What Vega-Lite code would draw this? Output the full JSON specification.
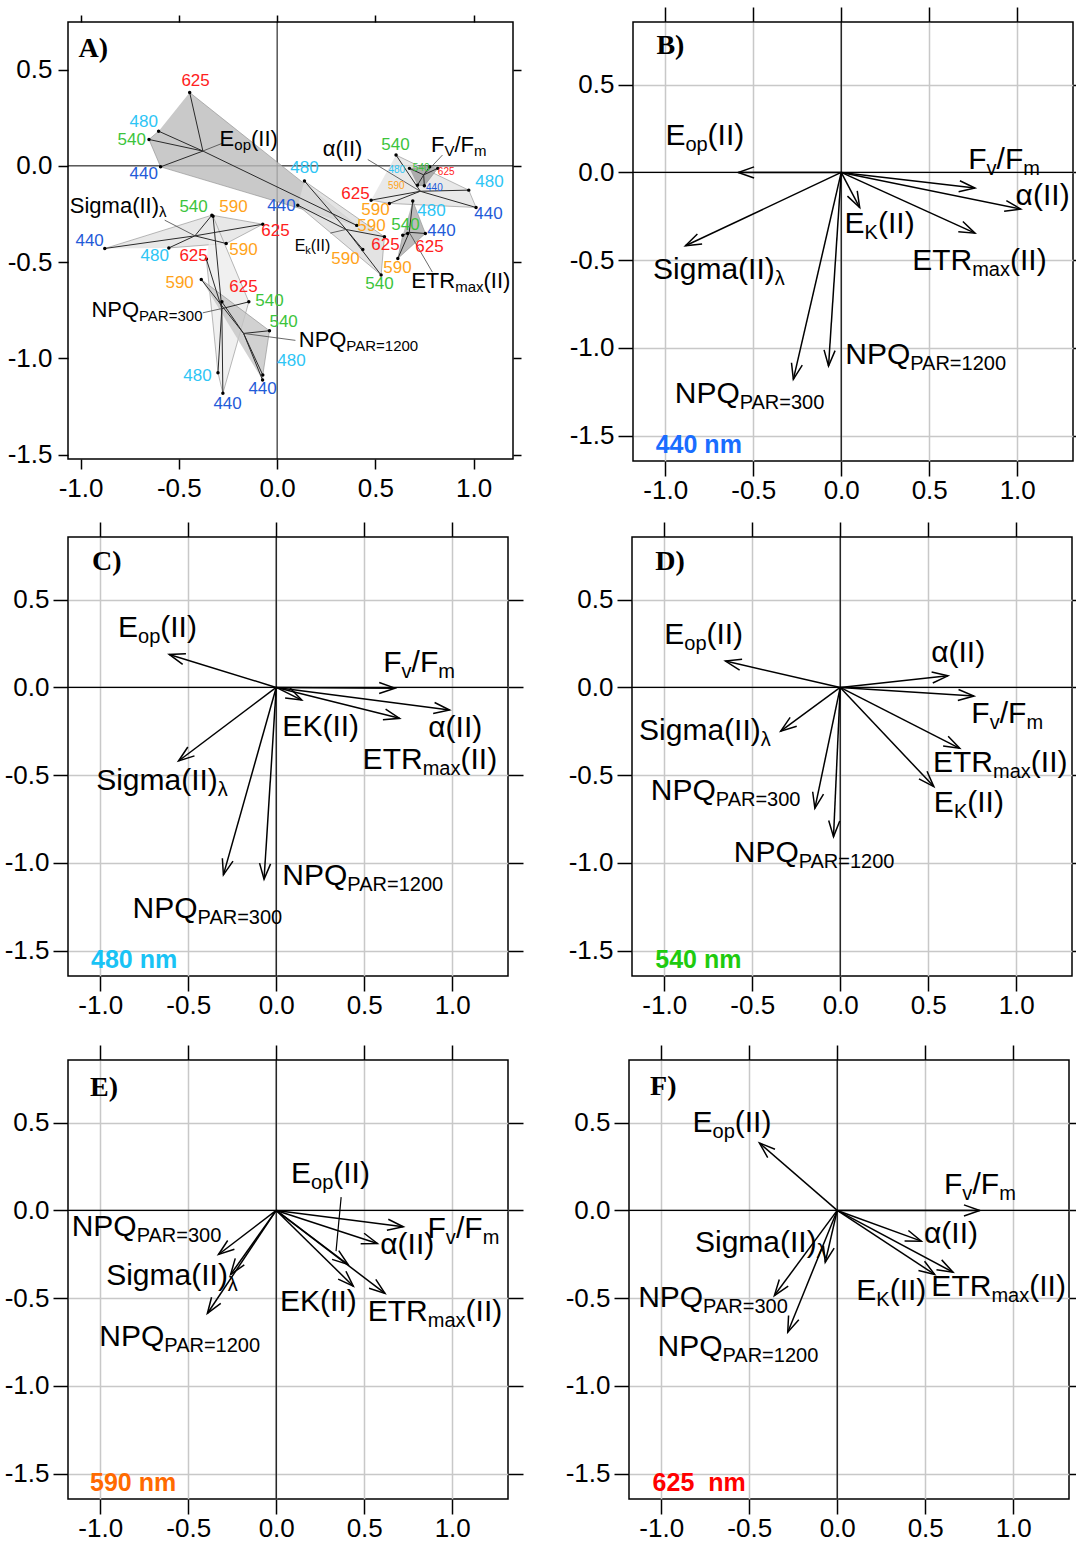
{
"$schema": "https://vega.github.io/schema/vega-lite/v6.json",
"padding": {"left": 3, "top": 5, "right": 0, "bottom": 0},
"background": "white",
"config": {
  "view": {"stroke": "black", "strokeWidth": 1.5},
  "font": "Liberation Sans",
  "axis": {"labelFont": "Liberation Sans", "labelFontSize": 26, "labelColor": "black", "tickColor": "black", "tickWidth": 1.5, "domain": false, "gridColor": "#c8c8c8", "gridWidth": 1.5, "labelOverlap": false, "labelFlush": false}
},
"datasets": {
  "arrows": [
    {"p":"B","v":"Eop","x":-0.585,"y":0.0},{"p":"B","v":"FvFm","x":0.760,"y":-0.089},{"p":"B","v":"alpha","x":1.020,"y":-0.209},{"p":"B","v":"EK","x":0.105,"y":-0.200},{"p":"B","v":"ETRmax","x":0.760,"y":-0.346},{"p":"B","v":"Sigma","x":-0.885,"y":-0.418},{"p":"B","v":"NPQ300","x":-0.272,"y":-1.179},{"p":"B","v":"NPQ1200","x":-0.072,"y":-1.103},
    {"p":"C","v":"Eop","x":-0.608,"y":0.188},{"p":"C","v":"FvFm","x":0.675,"y":-0.004},{"p":"C","v":"alpha","x":0.985,"y":-0.129},{"p":"C","v":"EK","x":0.145,"y":-0.072},{"p":"C","v":"ETRmax","x":0.701,"y":-0.176},{"p":"C","v":"Sigma","x":-0.555,"y":-0.419},{"p":"C","v":"NPQ300","x":-0.300,"y":-1.068},{"p":"C","v":"NPQ1200","x":-0.069,"y":-1.093},
    {"p":"D","v":"Eop","x":-0.652,"y":0.150},{"p":"D","v":"alpha","x":0.612,"y":0.066},{"p":"D","v":"FvFm","x":0.760,"y":-0.049},{"p":"D","v":"ETRmax","x":0.679,"y":-0.347},{"p":"D","v":"EK","x":0.532,"y":-0.565},{"p":"D","v":"Sigma","x":-0.338,"y":-0.249},{"p":"D","v":"NPQ300","x":-0.144,"y":-0.689},{"p":"D","v":"NPQ1200","x":-0.038,"y":-0.850},
    {"p":"E","v":"FvFm","x":0.722,"y":-0.093},{"p":"E","v":"alpha","x":0.575,"y":-0.188},{"p":"E","v":"Eop","x":0.408,"y":-0.308},{"p":"E","v":"EK","x":0.438,"y":-0.432},{"p":"E","v":"ETRmax","x":0.618,"y":-0.473},{"p":"E","v":"NPQ300","x":-0.328,"y":-0.251},{"p":"E","v":"Sigma","x":-0.259,"y":-0.365},{"p":"E","v":"NPQ1200","x":-0.391,"y":-0.587},
    {"p":"F","v":"Eop","x":-0.442,"y":0.384},{"p":"F","v":"FvFm","x":0.810,"y":0.0},{"p":"F","v":"alpha","x":0.478,"y":-0.175},{"p":"F","v":"EK","x":0.554,"y":-0.365},{"p":"F","v":"ETRmax","x":0.658,"y":-0.352},{"p":"F","v":"Sigma","x":-0.068,"y":-0.295},{"p":"F","v":"NPQ300","x":-0.357,"y":-0.485},{"p":"F","v":"NPQ1200","x":-0.281,"y":-0.694}
  ],
  "labs": [
    {"p":"B","t":"E","k":"m","x":-0.999,"y":0.156},{"p":"B","t":"op","k":"s","x":-0.885,"y":0.156},{"p":"B","t":"(II)","k":"m","x":-0.759,"y":0.156},
    {"p":"B","t":"F","k":"m","x":0.722,"y":0.019},{"p":"B","t":"v","k":"s","x":0.826,"y":0.019},{"p":"B","t":"/F","k":"m","x":0.883,"y":0.019},{"p":"B","t":"m","k":"s","x":1.035,"y":0.019},
    {"p":"B","t":"α(II)","k":"m","x":0.991,"y":-0.186},
    {"p":"B","t":"E","k":"m","x":0.019,"y":-0.346},{"p":"B","t":"K","k":"s","x":0.133,"y":-0.346},{"p":"B","t":"(II)","k":"m","x":0.209,"y":-0.346},
    {"p":"B","t":"ETR","k":"m","x":0.403,"y":-0.555},{"p":"B","t":"max","k":"s","x":0.744,"y":-0.555},{"p":"B","t":"(II)","k":"m","x":0.959,"y":-0.555},
    {"p":"B","t":"Sigma(II)","k":"m","x":-1.069,"y":-0.608},{"p":"B","t":"λ","k":"s","x":-0.378,"y":-0.608},
    {"p":"B","t":"NPQ","k":"m","x":0.023,"y":-1.093},{"p":"B","t":"PAR=1200","k":"s","x":0.392,"y":-1.093},
    {"p":"B","t":"NPQ","k":"m","x":-0.946,"y":-1.312},{"p":"B","t":"PAR=300","k":"s","x":-0.577,"y":-1.312},
    {"p":"C","t":"E","k":"m","x":-0.899,"y":0.288},{"p":"C","t":"op","k":"s","x":-0.785,"y":0.288},{"p":"C","t":"(II)","k":"m","x":-0.659,"y":0.288},
    {"p":"C","t":"F","k":"m","x":0.608,"y":0.089},{"p":"C","t":"v","k":"s","x":0.712,"y":0.089},{"p":"C","t":"/F","k":"m","x":0.769,"y":0.089},{"p":"C","t":"m","k":"s","x":0.921,"y":0.089},
    {"p":"C","t":"α(II)","k":"m","x":0.864,"y":-0.281},
    {"p":"C","t":"EK(II)","k":"m","x":0.035,"y":-0.275},
    {"p":"C","t":"ETR","k":"m","x":0.491,"y":-0.467},{"p":"C","t":"max","k":"s","x":0.832,"y":-0.467},{"p":"C","t":"(II)","k":"m","x":1.047,"y":-0.467},
    {"p":"C","t":"Sigma(II)","k":"m","x":-1.023,"y":-0.584},{"p":"C","t":"λ","k":"s","x":-0.332,"y":-0.584},
    {"p":"C","t":"NPQ","k":"m","x":0.035,"y":-1.125},{"p":"C","t":"PAR=1200","k":"s","x":0.404,"y":-1.125},
    {"p":"C","t":"NPQ","k":"m","x":-0.816,"y":-1.315},{"p":"C","t":"PAR=300","k":"s","x":-0.447,"y":-1.315},
    {"p":"D","t":"E","k":"m","x":-1.0,"y":0.245},{"p":"D","t":"op","k":"s","x":-0.886,"y":0.245},{"p":"D","t":"(II)","k":"m","x":-0.760,"y":0.245},
    {"p":"D","t":"α(II)","k":"m","x":0.517,"y":0.146},
    {"p":"D","t":"F","k":"m","x":0.745,"y":-0.205},{"p":"D","t":"v","k":"s","x":0.849,"y":-0.205},{"p":"D","t":"/F","k":"m","x":0.906,"y":-0.205},{"p":"D","t":"m","k":"s","x":1.058,"y":-0.205},
    {"p":"D","t":"ETR","k":"m","x":0.527,"y":-0.480},{"p":"D","t":"max","k":"s","x":0.868,"y":-0.480},{"p":"D","t":"(II)","k":"m","x":1.083,"y":-0.480},
    {"p":"D","t":"E","k":"m","x":0.532,"y":-0.708},{"p":"D","t":"K","k":"s","x":0.646,"y":-0.708},{"p":"D","t":"(II)","k":"m","x":0.722,"y":-0.708},
    {"p":"D","t":"Sigma(II)","k":"m","x":-1.143,"y":-0.300},{"p":"D","t":"λ","k":"s","x":-0.452,"y":-0.300},
    {"p":"D","t":"NPQ","k":"m","x":-1.076,"y":-0.641},{"p":"D","t":"PAR=300","k":"s","x":-0.707,"y":-0.641},
    {"p":"D","t":"NPQ","k":"m","x":-0.605,"y":-0.992},{"p":"D","t":"PAR=1200","k":"s","x":-0.236,"y":-0.992},
    {"p":"E","t":"E","k":"m","x":0.084,"y":0.158},{"p":"E","t":"op","k":"s","x":0.198,"y":0.158},{"p":"E","t":"(II)","k":"m","x":0.324,"y":0.158},
    {"p":"E","t":"F","k":"m","x":0.860,"y":-0.156},{"p":"E","t":"v","k":"s","x":0.964,"y":-0.156},{"p":"E","t":"/F","k":"m","x":1.021,"y":-0.156},{"p":"E","t":"m","k":"s","x":1.173,"y":-0.156},
    {"p":"E","t":"α(II)","k":"m","x":0.591,"y":-0.251},
    {"p":"E","t":"EK(II)","k":"m","x":0.022,"y":-0.574},
    {"p":"E","t":"ETR","k":"m","x":0.520,"y":-0.631},{"p":"E","t":"max","k":"s","x":0.861,"y":-0.631},{"p":"E","t":"(II)","k":"m","x":1.076,"y":-0.631},
    {"p":"E","t":"NPQ","k":"m","x":-1.162,"y":-0.146},{"p":"E","t":"PAR=300","k":"s","x":-0.793,"y":-0.146},
    {"p":"E","t":"Sigma(II)","k":"m","x":-0.966,"y":-0.422},{"p":"E","t":"λ","k":"s","x":-0.275,"y":-0.422},
    {"p":"E","t":"NPQ","k":"m","x":-1.005,"y":-0.774},{"p":"E","t":"PAR=1200","k":"s","x":-0.636,"y":-0.774},
    {"p":"F","t":"E","k":"m","x":-0.822,"y":0.447},{"p":"F","t":"op","k":"s","x":-0.708,"y":0.447},{"p":"F","t":"(II)","k":"m","x":-0.582,"y":0.447},
    {"p":"F","t":"F","k":"m","x":0.607,"y":0.095},{"p":"F","t":"v","k":"s","x":0.711,"y":0.095},{"p":"F","t":"/F","k":"m","x":0.768,"y":0.095},{"p":"F","t":"m","k":"s","x":0.920,"y":0.095},
    {"p":"F","t":"α(II)","k":"m","x":0.493,"y":-0.186},
    {"p":"F","t":"E","k":"m","x":0.108,"y":-0.513},{"p":"F","t":"K","k":"s","x":0.222,"y":-0.513},{"p":"F","t":"(II)","k":"m","x":0.298,"y":-0.513},
    {"p":"F","t":"ETR","k":"m","x":0.535,"y":-0.485},{"p":"F","t":"max","k":"s","x":0.876,"y":-0.485},{"p":"F","t":"(II)","k":"m","x":1.091,"y":-0.485},
    {"p":"F","t":"Sigma(II)","k":"m","x":-0.808,"y":-0.238},{"p":"F","t":"λ","k":"s","x":-0.117,"y":-0.238},
    {"p":"F","t":"NPQ","k":"m","x":-1.131,"y":-0.548},{"p":"F","t":"PAR=300","k":"s","x":-0.762,"y":-0.548},
    {"p":"F","t":"NPQ","k":"m","x":-1.021,"y":-0.827},{"p":"F","t":"PAR=1200","k":"s","x":-0.652,"y":-0.827}
  ],
  "tags": [
    {"p":"A","t":"A)","kind":"L","x":-1.010,"y":0.566},
    {"p":"B","t":"B)","kind":"L","x":-1.050,"y":0.675},{"p":"B","t":"440 nm","kind":"W","x":-1.054,"y":-1.601},
    {"p":"C","t":"C)","kind":"L","x":-1.046,"y":0.668},{"p":"C","t":"480 nm","kind":"W","x":-1.052,"y":-1.600},
    {"p":"D","t":"D)","kind":"L","x":-1.051,"y":0.668},{"p":"D","t":"540 nm","kind":"W","x":-1.051,"y":-1.596},
    {"p":"E","t":"E)","kind":"L","x":-1.058,"y":0.652},{"p":"E","t":"590 nm","kind":"W","x":-1.058,"y":-1.601},
    {"p":"F","t":"F)","kind":"L","x":-1.063,"y":0.656},{"p":"F","t":"625\u00a0\u00a0nm","kind":"W","x":-1.049,"y":-1.601}
  ],
  "apts": [
    {"g":"Eop","wl":"625","x":-0.445,"y":0.381,"lx":-0.415,"ly":0.440,"h":1},
    {"g":"Eop","wl":"590","x":0.405,"y":-0.309,"lx":0.480,"ly":-0.313,"h":2},
    {"g":"Eop","wl":"440","x":-0.593,"y":-0.005,"lx":-0.679,"ly":-0.043,"h":3},
    {"g":"Eop","wl":"540","x":-0.652,"y":0.137,"lx":-0.740,"ly":0.133,"h":4},
    {"g":"Eop","wl":"480","x":-0.603,"y":0.180,"lx":-0.679,"ly":0.227,"h":5},
    {"g":"Sigma","wl":"440","x":-0.877,"y":-0.429,"lx":-0.954,"ly":-0.391,"h":1},
    {"g":"Sigma","wl":"540","x":-0.332,"y":-0.256,"lx":-0.425,"ly":-0.214,"h":2},
    {"g":"Sigma","wl":"625","x":-0.073,"y":-0.303,"lx":-0.008,"ly":-0.339,"h":3},
    {"g":"Sigma","wl":"590","x":-0.259,"y":-0.403,"lx":-0.171,"ly":-0.437,"h":4},
    {"g":"Sigma","wl":"480","x":-0.551,"y":-0.426,"lx":-0.623,"ly":-0.469,"h":5},
    {"g":"NPQ300","wl":"590","x":-0.326,"y":-0.262,"lx":-0.222,"ly":-0.214,"h":1},
    {"g":"NPQ300","wl":"540","x":-0.144,"y":-0.706,"lx":-0.039,"ly":-0.702,"h":2},
    {"g":"NPQ300","wl":"440","x":-0.276,"y":-1.181,"lx":-0.252,"ly":-1.237,"h":3},
    {"g":"NPQ300","wl":"480","x":-0.301,"y":-1.074,"lx":-0.405,"ly":-1.091,"h":4},
    {"g":"NPQ300","wl":"625","x":-0.360,"y":-0.484,"lx":-0.425,"ly":-0.469,"h":5},
    {"g":"NPQ1200","wl":"590","x":-0.386,"y":-0.590,"lx":-0.496,"ly":-0.609,"h":1},
    {"g":"NPQ1200","wl":"540","x":-0.039,"y":-0.856,"lx":0.033,"ly":-0.811,"h":2},
    {"g":"NPQ1200","wl":"480","x":-0.073,"y":-1.086,"lx":0.073,"ly":-1.013,"h":3},
    {"g":"NPQ1200","wl":"440","x":-0.074,"y":-1.112,"lx":-0.074,"ly":-1.159,"h":4},
    {"g":"NPQ1200","wl":"625","x":-0.281,"y":-0.706,"lx":-0.171,"ly":-0.629,"h":null},
    {"g":"alpha","wl":"540","x":0.605,"y":0.056,"lx":0.602,"ly":0.107,"h":1},
    {"g":"alpha","wl":"480","x":0.975,"y":-0.126,"lx":1.080,"ly":-0.085,"h":2},
    {"g":"alpha","wl":"440","x":1.012,"y":-0.216,"lx":1.075,"ly":-0.251,"h":3},
    {"g":"alpha","wl":"590","x":0.571,"y":-0.195,"lx":0.500,"ly":-0.230,"h":4},
    {"g":"alpha","wl":"625","x":0.478,"y":-0.178,"lx":0.399,"ly":-0.147,"h":5},
    {"g":"FvFm","wl":"480","x":0.673,"y":-0.013,"lx":0.609,"ly":-0.022,"h":1},
    {"g":"FvFm","wl":"540","x":0.775,"y":-0.005,"lx":0.733,"ly":-0.013,"h":2},
    {"g":"FvFm","wl":"625","x":0.817,"y":-0.013,"lx":0.860,"ly":-0.031,"h":3},
    {"g":"FvFm","wl":"440","x":0.749,"y":-0.103,"lx":0.800,"ly":-0.117,"h":4},
    {"g":"FvFm","wl":"590","x":0.714,"y":-0.100,"lx":0.606,"ly":-0.105,"h":5},
    {"g":"EK","wl":"480","x":0.139,"y":-0.079,"lx":0.139,"ly":-0.012,"h":1},
    {"g":"EK","wl":"625","x":0.546,"y":-0.368,"lx":0.551,"ly":-0.412,"h":2},
    {"g":"EK","wl":"540","x":0.529,"y":-0.567,"lx":0.521,"ly":-0.614,"h":3},
    {"g":"EK","wl":"440","x":0.105,"y":-0.204,"lx":0.022,"ly":-0.209,"h":4},
    {"g":"EK","wl":"590","x":0.436,"y":-0.434,"lx":0.348,"ly":-0.484,"h":null},
    {"g":"ETRmax","wl":"480","x":0.690,"y":-0.182,"lx":0.785,"ly":-0.235,"h":1},
    {"g":"ETRmax","wl":"440","x":0.754,"y":-0.351,"lx":0.836,"ly":-0.339,"h":2},
    {"g":"ETRmax","wl":"590","x":0.614,"y":-0.481,"lx":0.612,"ly":-0.531,"h":3},
    {"g":"ETRmax","wl":"540","x":0.639,"y":-0.360,"lx":0.653,"ly":-0.308,"h":4},
    {"g":"ETRmax","wl":"625","x":0.664,"y":-0.351,"lx":0.775,"ly":-0.422,"h":null}
  ],
  "alabs": [
    {"t":"E","k":"m","x":-0.293,"y":0.102},{"t":"op","k":"s","x":-0.218,"y":0.102},{"t":"(II)","k":"m","x":-0.133,"y":0.102},
    {"t":"α(II)","k":"m","x":0.232,"y":0.050},
    {"t":"F","k":"m","x":0.783,"y":0.073},{"t":"V","k":"s","x":0.851,"y":0.073},{"t":"/F","k":"m","x":0.902,"y":0.073},{"t":"m","k":"s","x":1.002,"y":0.073},
    {"t":"Sigma(II)","k":"m","x":-1.055,"y":-0.244},{"t":"λ","k":"s","x":-0.601,"y":-0.244},
    {"t":"NPQ","k":"m","x":-0.945,"y":-0.787},{"t":"PAR=300","k":"s","x":-0.703,"y":-0.787},
    {"t":"NPQ","k":"m","x":0.110,"y":-0.942},{"t":"PAR=1200","k":"s","x":0.352,"y":-0.942},
    {"t":"E","k":"m2","x":0.089,"y":-0.443},{"t":"k","k":"s2","x":0.143,"y":-0.443},{"t":"(II)","k":"m2","x":0.171,"y":-0.443},
    {"t":"ETR","k":"m","x":0.682,"y":-0.636},{"t":"max","k":"s","x":0.906,"y":-0.636},{"t":"(II)","k":"m","x":1.050,"y":-0.636}
  ],
  "alead": [
    {"p":"A","x":-0.277,"y":0.118,"x2":-0.378,"y2":0.077},
    {"p":"A","x":-0.572,"y":-0.282,"x2":-0.418,"y2":-0.363},
    {"p":"A","x":-0.378,"y":-0.763,"x2":-0.282,"y2":-0.741},
    {"p":"A","x":0.093,"y":-0.906,"x2":-0.171,"y2":-0.870},
    {"p":"A","x":0.461,"y":0.033,"x2":0.728,"y2":-0.132},
    {"p":"A","x":0.841,"y":0.056,"x2":0.746,"y2":-0.047},
    {"p":"A","x":0.271,"y":-0.349,"x2":0.351,"y2":-0.330},
    {"p":"A","x":0.790,"y":-0.552,"x2":0.672,"y2":-0.345},
    {"p":"E","x":0.369,"y":0.076,"x2":0.340,"y2":-0.232}
  ]
},
"vconcat": [
 {"hconcat": [
  {"width": 445, "height": 437,
   "resolve": {"axis": {"x": "independent", "y": "independent"}},
   "layer": [
    {"data": {"name": "apts"}, "mark": {"type": "point", "opacity": 0},
     "encoding": {
      "x": {"field": "x", "type": "quantitative", "scale": {"domain": [-1.064, 1.2], "nice": false, "zero": false}, "axis": {"orient": "bottom", "values": [-1, -0.5, 0, 0.5, 1], "labelExpr": "datum.value < 0 ? '-' + format(-datum.value, '.1f') : format(datum.value, '.1f')", "grid": false, "tickSize": 10, "labelPadding": 6, "title": null}},
      "y": {"field": "y", "type": "quantitative", "scale": {"domain": [-1.522, 0.747], "nice": false, "zero": false}, "axis": {"orient": "left", "values": [-1.5, -1, -0.5, 0, 0.5], "labelExpr": "datum.value < 0 ? '-' + format(-datum.value, '.1f') : format(datum.value, '.1f')", "grid": false, "tickSize": 10, "labelPadding": 6, "title": null}}}},
    {"data": {"name": "apts"}, "mark": {"type": "point", "opacity": 0},
     "encoding": {
      "x": {"field": "x", "type": "quantitative", "axis": {"orient": "top", "values": [-1, -0.5, 0, 0.5, 1], "labels": false, "grid": false, "tickSize": 7, "title": null}},
      "y": {"field": "y", "type": "quantitative", "axis": {"orient": "right", "values": [-1.5, -1, -0.5, 0, 0.5], "labels": false, "grid": false, "tickSize": 8, "title": null}}}},
    {"data": {"name": "tags"}, "transform": [{"filter": "datum.p == 'A'"}],
     "mark": {"type": "rule", "color": "black", "strokeWidth": 1},
     "encoding": {"y": {"datum": 0, "type": "quantitative", "axis": null}}},
    {"data": {"name": "tags"}, "transform": [{"filter": "datum.p == 'A'"}],
     "mark": {"type": "rule", "color": "black", "strokeWidth": 1},
     "encoding": {"x": {"datum": 0, "type": "quantitative", "axis": null}}},
    {"data": {"name": "apts"}, "transform": [{"filter": "datum.h != null"}],
     "mark": {"type": "line", "stroke": "#8a8a8a", "strokeWidth": 0.6, "fillOpacity": 0.8},
     "encoding": {
      "x": {"field": "x", "type": "quantitative", "axis": null},
      "y": {"field": "y", "type": "quantitative", "axis": null},
      "order": {"field": "h", "type": "quantitative"},
      "detail": {"field": "g", "type": "nominal"},
      "fill": {"field": "g", "type": "nominal", "legend": null, "scale": {"domain": ["NPQ300","Sigma","alpha","EK","NPQ1200","Eop","ETRmax","FvFm"], "range": ["#ececec","#e2e2e2","#e4e4e4","#dcdcdc","#c6c6c6","#bcbcbc","#ababab","#9c9c9c"]}}}},
    {"data": {"name": "apts"}, "transform": [{"joinaggregate": [{"op": "mean", "field": "x", "as": "mx"}, {"op": "mean", "field": "y", "as": "my"}], "groupby": ["g"]}],
     "mark": {"type": "rule", "color": "#2a2a2a", "strokeWidth": 1},
     "encoding": {"x": {"field": "mx", "type": "quantitative", "axis": null}, "y": {"field": "my", "type": "quantitative", "axis": null}, "x2": {"field": "x"}, "y2": {"field": "y"}}},
    {"data": {"name": "alead"}, "transform": [{"filter": "datum.p == 'A'"}],
     "mark": {"type": "rule", "color": "#444444", "strokeWidth": 0.8},
     "encoding": {"x": {"field": "x", "type": "quantitative", "axis": null}, "y": {"field": "y", "type": "quantitative", "axis": null}, "x2": {"field": "x2"}, "y2": {"field": "y2"}}},
    {"data": {"name": "apts"}, "mark": {"type": "point", "filled": true, "color": "black", "size": 12, "opacity": 1},
     "encoding": {"x": {"field": "x", "type": "quantitative", "axis": null}, "y": {"field": "y", "type": "quantitative", "axis": null}}},
    {"data": {"name": "apts"}, "transform": [{"filter": "datum.g != 'FvFm'"}],
     "mark": {"type": "text", "align": "center", "baseline": "middle", "fontSize": 17, "font": "Liberation Sans"},
     "encoding": {"x": {"field": "lx", "type": "quantitative", "axis": null}, "y": {"field": "ly", "type": "quantitative", "axis": null}, "text": {"field": "wl", "type": "nominal"},
      "color": {"field": "wl", "type": "nominal", "legend": null, "scale": {"domain": ["440","480","540","590","625"], "range": ["#1f5bd8","#2ec5f5","#3cc43c","#ffa31a","#ff2020"]}}}},
    {"data": {"name": "apts"}, "transform": [{"filter": "datum.g == 'FvFm'"}],
     "mark": {"type": "text", "align": "center", "baseline": "middle", "fontSize": 10, "font": "Liberation Sans"},
     "encoding": {"x": {"field": "lx", "type": "quantitative", "axis": null}, "y": {"field": "ly", "type": "quantitative", "axis": null}, "text": {"field": "wl", "type": "nominal"},
      "color": {"field": "wl", "type": "nominal", "legend": null, "scale": {"domain": ["440","480","540","590","625"], "range": ["#1f5bd8","#2ec5f5","#3cc43c","#ffa31a","#ff2020"]}}}},
    {"data": {"name": "alabs"}, "transform": [{"filter": "datum.k == 'm'"}],
     "mark": {"type": "text", "align": "left", "baseline": "alphabetic", "fontSize": 22, "font": "Liberation Sans", "color": "black"},
     "encoding": {"x": {"field": "x", "type": "quantitative", "axis": null}, "y": {"field": "y", "type": "quantitative", "axis": null}, "text": {"field": "t", "type": "nominal"}}},
    {"data": {"name": "alabs"}, "transform": [{"filter": "datum.k == 's'"}],
     "mark": {"type": "text", "align": "left", "baseline": "alphabetic", "fontSize": 15, "dy": 4, "font": "Liberation Sans", "color": "black"},
     "encoding": {"x": {"field": "x", "type": "quantitative", "axis": null}, "y": {"field": "y", "type": "quantitative", "axis": null}, "text": {"field": "t", "type": "nominal"}}},
    {"data": {"name": "alabs"}, "transform": [{"filter": "datum.k == 'm2'"}],
     "mark": {"type": "text", "align": "left", "baseline": "alphabetic", "fontSize": 16, "font": "Liberation Sans", "color": "black"},
     "encoding": {"x": {"field": "x", "type": "quantitative", "axis": null}, "y": {"field": "y", "type": "quantitative", "axis": null}, "text": {"field": "t", "type": "nominal"}}},
    {"data": {"name": "alabs"}, "transform": [{"filter": "datum.k == 's2'"}],
     "mark": {"type": "text", "align": "left", "baseline": "alphabetic", "fontSize": 11, "dy": 3, "font": "Liberation Sans", "color": "black"},
     "encoding": {"x": {"field": "x", "type": "quantitative", "axis": null}, "y": {"field": "y", "type": "quantitative", "axis": null}, "text": {"field": "t", "type": "nominal"}}},
    {"data": {"name": "tags"}, "transform": [{"filter": "datum.p == 'A' && datum.kind == 'L'"}],
     "mark": {"type": "text", "align": "left", "baseline": "alphabetic", "fontSize": 28, "font": "Liberation Serif", "fontWeight": "bold", "color": "black"},
     "encoding": {"x": {"field": "x", "type": "quantitative", "axis": null}, "y": {"field": "y", "type": "quantitative", "axis": null}, "text": {"field": "t", "type": "nominal"}}}
   ]},
  {"width": 440, "height": 439,
   "resolve": {"axis": {"x": "independent", "y": "independent"}},
   "layer": [
    {"data": {"name": "arrows"}, "transform": [{"filter": "datum.p == 'B'"}], "mark": {"type": "point", "opacity": 0},
     "encoding": {
      "x": {"field": "x", "type": "quantitative", "scale": {"domain": [-1.183, 1.317], "nice": false, "zero": false}, "axis": {"orient": "bottom", "values": [-1, -0.5, 0, 0.5, 1], "labelExpr": "datum.value < 0 ? '-' + format(-datum.value, '.1f') : format(datum.value, '.1f')", "grid": true, "tickSize": 15, "labelPadding": 1, "title": null}},
      "y": {"field": "y", "type": "quantitative", "scale": {"domain": [-1.644, 0.857], "nice": false, "zero": false}, "axis": {"orient": "left", "values": [-1.5, -1, -0.5, 0, 0.5], "labelExpr": "datum.value < 0 ? '-' + format(-datum.value, '.1f') : format(datum.value, '.1f')", "grid": true, "tickSize": 15, "labelPadding": 4, "title": null}}}},
    {"data": {"name": "arrows"}, "transform": [{"filter": "datum.p == 'B'"}], "mark": {"type": "point", "opacity": 0},
     "encoding": {
      "x": {"field": "x", "type": "quantitative", "axis": {"orient": "top", "values": [-1, -0.5, 0, 0.5, 1], "labels": false, "grid": false, "tickSize": 15, "title": null}},
      "y": {"field": "y", "type": "quantitative", "axis": {"orient": "right", "values": [-1.5, -1, -0.5, 0, 0.5], "labels": false, "grid": false, "tickSize": 15, "title": null}}}},
    {"data": {"name": "tags"}, "transform": [{"filter": "datum.p == 'B' && datum.kind == 'L'"}], "mark": {"type": "rule", "color": "black", "strokeWidth": 1.2}, "encoding": {"y": {"datum": 0, "type": "quantitative", "axis": null}}},
    {"data": {"name": "tags"}, "transform": [{"filter": "datum.p == 'B' && datum.kind == 'L'"}], "mark": {"type": "rule", "color": "black", "strokeWidth": 1.2}, "encoding": {"x": {"datum": 0, "type": "quantitative", "axis": null}}},
    {"data": {"name": "arrows"}, "transform": [{"filter": "datum.p == 'B'"}], "mark": {"type": "rule", "color": "black", "strokeWidth": 1.5},
     "encoding": {"x": {"field": "x", "type": "quantitative", "axis": null}, "y": {"field": "y", "type": "quantitative", "axis": null}, "x2": {"datum": 0}, "y2": {"datum": 0}}},
    {"data": {"name": "arrows"}, "transform": [{"filter": "datum.p == 'B'"}, {"calculate": "-atan2(datum.y, datum.x) * 180 / PI", "as": "ang"}],
     "mark": {"type": "point", "shape": "M -1 -0.35 L 0 0 L -1 0.35", "filled": false, "size": 1000, "stroke": "black", "strokeWidth": 1.5, "opacity": 1},
     "encoding": {"x": {"field": "x", "type": "quantitative", "axis": null}, "y": {"field": "y", "type": "quantitative", "axis": null}, "angle": {"field": "ang", "type": "quantitative", "scale": null}}},
    {"data": {"name": "labs"}, "transform": [{"filter": "datum.p == 'B' && datum.k == 'm'"}],
     "mark": {"type": "text", "align": "left", "baseline": "alphabetic", "fontSize": 30, "font": "Liberation Sans", "color": "black"},
     "encoding": {"x": {"field": "x", "type": "quantitative", "axis": null}, "y": {"field": "y", "type": "quantitative", "axis": null}, "text": {"field": "t", "type": "nominal"}}},
    {"data": {"name": "labs"}, "transform": [{"filter": "datum.p == 'B' && datum.k == 's'"}],
     "mark": {"type": "text", "align": "left", "baseline": "alphabetic", "fontSize": 20, "dy": 6, "font": "Liberation Sans", "color": "black"},
     "encoding": {"x": {"field": "x", "type": "quantitative", "axis": null}, "y": {"field": "y", "type": "quantitative", "axis": null}, "text": {"field": "t", "type": "nominal"}}},
    {"data": {"name": "tags"}, "transform": [{"filter": "datum.p == 'B' && datum.kind == 'L'"}],
     "mark": {"type": "text", "align": "left", "baseline": "alphabetic", "fontSize": 28, "font": "Liberation Serif", "fontWeight": "bold", "color": "black"},
     "encoding": {"x": {"field": "x", "type": "quantitative", "axis": null}, "y": {"field": "y", "type": "quantitative", "axis": null}, "text": {"field": "t", "type": "nominal"}}},
    {"data": {"name": "tags"}, "transform": [{"filter": "datum.p == 'B' && datum.kind == 'W'"}],
     "mark": {"type": "text", "align": "left", "baseline": "alphabetic", "fontSize": 25, "font": "Liberation Sans", "fontWeight": "bold", "color": "#1a6dff"},
     "encoding": {"x": {"field": "x", "type": "quantitative", "axis": null}, "y": {"field": "y", "type": "quantitative", "axis": null}, "text": {"field": "t", "type": "nominal"}}}
   ]}
 ], "spacing": 45},
 {"vconcat": [
  {"hconcat": [
   {"width": 440, "height": 439,
    "resolve": {"axis": {"x": "independent", "y": "independent"}},
    "layer": [
     {"data": {"name": "arrows"}, "transform": [{"filter": "datum.p == 'C'"}], "mark": {"type": "point", "opacity": 0},
      "encoding": {
       "x": {"field": "x", "type": "quantitative", "scale": {"domain": [-1.183, 1.317], "nice": false, "zero": false}, "axis": {"orient": "bottom", "values": [-1, -0.5, 0, 0.5, 1], "labelExpr": "datum.value < 0 ? '-' + format(-datum.value, '.1f') : format(datum.value, '.1f')", "grid": true, "tickSize": 15, "labelPadding": 1, "title": null}},
       "y": {"field": "y", "type": "quantitative", "scale": {"domain": [-1.644, 0.857], "nice": false, "zero": false}, "axis": {"orient": "left", "values": [-1.5, -1, -0.5, 0, 0.5], "labelExpr": "datum.value < 0 ? '-' + format(-datum.value, '.1f') : format(datum.value, '.1f')", "grid": true, "tickSize": 15, "labelPadding": 4, "title": null}}}},
     {"data": {"name": "arrows"}, "transform": [{"filter": "datum.p == 'C'"}], "mark": {"type": "point", "opacity": 0},
      "encoding": {
       "x": {"field": "x", "type": "quantitative", "axis": {"orient": "top", "values": [-1, -0.5, 0, 0.5, 1], "labels": false, "grid": false, "tickSize": 15, "title": null}},
       "y": {"field": "y", "type": "quantitative", "axis": {"orient": "right", "values": [-1.5, -1, -0.5, 0, 0.5], "labels": false, "grid": false, "tickSize": 15, "title": null}}}},
     {"data": {"name": "tags"}, "transform": [{"filter": "datum.p == 'C' && datum.kind == 'L'"}], "mark": {"type": "rule", "color": "black", "strokeWidth": 1.2}, "encoding": {"y": {"datum": 0, "type": "quantitative", "axis": null}}},
     {"data": {"name": "tags"}, "transform": [{"filter": "datum.p == 'C' && datum.kind == 'L'"}], "mark": {"type": "rule", "color": "black", "strokeWidth": 1.2}, "encoding": {"x": {"datum": 0, "type": "quantitative", "axis": null}}},
     {"data": {"name": "arrows"}, "transform": [{"filter": "datum.p == 'C'"}], "mark": {"type": "rule", "color": "black", "strokeWidth": 1.5},
      "encoding": {"x": {"field": "x", "type": "quantitative", "axis": null}, "y": {"field": "y", "type": "quantitative", "axis": null}, "x2": {"datum": 0}, "y2": {"datum": 0}}},
     {"data": {"name": "arrows"}, "transform": [{"filter": "datum.p == 'C'"}, {"calculate": "-atan2(datum.y, datum.x) * 180 / PI", "as": "ang"}],
      "mark": {"type": "point", "shape": "M -1 -0.35 L 0 0 L -1 0.35", "filled": false, "size": 1000, "stroke": "black", "strokeWidth": 1.5, "opacity": 1},
      "encoding": {"x": {"field": "x", "type": "quantitative", "axis": null}, "y": {"field": "y", "type": "quantitative", "axis": null}, "angle": {"field": "ang", "type": "quantitative", "scale": null}}},
     {"data": {"name": "labs"}, "transform": [{"filter": "datum.p == 'C' && datum.k == 'm'"}],
      "mark": {"type": "text", "align": "left", "baseline": "alphabetic", "fontSize": 30, "font": "Liberation Sans", "color": "black"},
      "encoding": {"x": {"field": "x", "type": "quantitative", "axis": null}, "y": {"field": "y", "type": "quantitative", "axis": null}, "text": {"field": "t", "type": "nominal"}}},
     {"data": {"name": "labs"}, "transform": [{"filter": "datum.p == 'C' && datum.k == 's'"}],
      "mark": {"type": "text", "align": "left", "baseline": "alphabetic", "fontSize": 20, "dy": 6, "font": "Liberation Sans", "color": "black"},
      "encoding": {"x": {"field": "x", "type": "quantitative", "axis": null}, "y": {"field": "y", "type": "quantitative", "axis": null}, "text": {"field": "t", "type": "nominal"}}},
     {"data": {"name": "tags"}, "transform": [{"filter": "datum.p == 'C' && datum.kind == 'L'"}],
      "mark": {"type": "text", "align": "left", "baseline": "alphabetic", "fontSize": 28, "font": "Liberation Serif", "fontWeight": "bold", "color": "black"},
      "encoding": {"x": {"field": "x", "type": "quantitative", "axis": null}, "y": {"field": "y", "type": "quantitative", "axis": null}, "text": {"field": "t", "type": "nominal"}}},
     {"data": {"name": "tags"}, "transform": [{"filter": "datum.p == 'C' && datum.kind == 'W'"}],
      "mark": {"type": "text", "align": "left", "baseline": "alphabetic", "fontSize": 25, "font": "Liberation Sans", "fontWeight": "bold", "color": "#19c3f5"},
      "encoding": {"x": {"field": "x", "type": "quantitative", "axis": null}, "y": {"field": "y", "type": "quantitative", "axis": null}, "text": {"field": "t", "type": "nominal"}}}
    ]},
   {"width": 440, "height": 439,
    "resolve": {"axis": {"x": "independent", "y": "independent"}},
    "layer": [
     {"data": {"name": "arrows"}, "transform": [{"filter": "datum.p == 'D'"}], "mark": {"type": "point", "opacity": 0},
      "encoding": {
       "x": {"field": "x", "type": "quantitative", "scale": {"domain": [-1.183, 1.317], "nice": false, "zero": false}, "axis": {"orient": "bottom", "values": [-1, -0.5, 0, 0.5, 1], "labelExpr": "datum.value < 0 ? '-' + format(-datum.value, '.1f') : format(datum.value, '.1f')", "grid": true, "tickSize": 15, "labelPadding": 1, "title": null}},
       "y": {"field": "y", "type": "quantitative", "scale": {"domain": [-1.644, 0.857], "nice": false, "zero": false}, "axis": {"orient": "left", "values": [-1.5, -1, -0.5, 0, 0.5], "labelExpr": "datum.value < 0 ? '-' + format(-datum.value, '.1f') : format(datum.value, '.1f')", "grid": true, "tickSize": 15, "labelPadding": 4, "title": null}}}},
     {"data": {"name": "arrows"}, "transform": [{"filter": "datum.p == 'D'"}], "mark": {"type": "point", "opacity": 0},
      "encoding": {
       "x": {"field": "x", "type": "quantitative", "axis": {"orient": "top", "values": [-1, -0.5, 0, 0.5, 1], "labels": false, "grid": false, "tickSize": 15, "title": null}},
       "y": {"field": "y", "type": "quantitative", "axis": {"orient": "right", "values": [-1.5, -1, -0.5, 0, 0.5], "labels": false, "grid": false, "tickSize": 15, "title": null}}}},
     {"data": {"name": "tags"}, "transform": [{"filter": "datum.p == 'D' && datum.kind == 'L'"}], "mark": {"type": "rule", "color": "black", "strokeWidth": 1.2}, "encoding": {"y": {"datum": 0, "type": "quantitative", "axis": null}}},
     {"data": {"name": "tags"}, "transform": [{"filter": "datum.p == 'D' && datum.kind == 'L'"}], "mark": {"type": "rule", "color": "black", "strokeWidth": 1.2}, "encoding": {"x": {"datum": 0, "type": "quantitative", "axis": null}}},
     {"data": {"name": "arrows"}, "transform": [{"filter": "datum.p == 'D'"}], "mark": {"type": "rule", "color": "black", "strokeWidth": 1.5},
      "encoding": {"x": {"field": "x", "type": "quantitative", "axis": null}, "y": {"field": "y", "type": "quantitative", "axis": null}, "x2": {"datum": 0}, "y2": {"datum": 0}}},
     {"data": {"name": "arrows"}, "transform": [{"filter": "datum.p == 'D'"}, {"calculate": "-atan2(datum.y, datum.x) * 180 / PI", "as": "ang"}],
      "mark": {"type": "point", "shape": "M -1 -0.35 L 0 0 L -1 0.35", "filled": false, "size": 1000, "stroke": "black", "strokeWidth": 1.5, "opacity": 1},
      "encoding": {"x": {"field": "x", "type": "quantitative", "axis": null}, "y": {"field": "y", "type": "quantitative", "axis": null}, "angle": {"field": "ang", "type": "quantitative", "scale": null}}},
     {"data": {"name": "labs"}, "transform": [{"filter": "datum.p == 'D' && datum.k == 'm'"}],
      "mark": {"type": "text", "align": "left", "baseline": "alphabetic", "fontSize": 30, "font": "Liberation Sans", "color": "black"},
      "encoding": {"x": {"field": "x", "type": "quantitative", "axis": null}, "y": {"field": "y", "type": "quantitative", "axis": null}, "text": {"field": "t", "type": "nominal"}}},
     {"data": {"name": "labs"}, "transform": [{"filter": "datum.p == 'D' && datum.k == 's'"}],
      "mark": {"type": "text", "align": "left", "baseline": "alphabetic", "fontSize": 20, "dy": 6, "font": "Liberation Sans", "color": "black"},
      "encoding": {"x": {"field": "x", "type": "quantitative", "axis": null}, "y": {"field": "y", "type": "quantitative", "axis": null}, "text": {"field": "t", "type": "nominal"}}},
     {"data": {"name": "tags"}, "transform": [{"filter": "datum.p == 'D' && datum.kind == 'L'"}],
      "mark": {"type": "text", "align": "left", "baseline": "alphabetic", "fontSize": 28, "font": "Liberation Serif", "fontWeight": "bold", "color": "black"},
      "encoding": {"x": {"field": "x", "type": "quantitative", "axis": null}, "y": {"field": "y", "type": "quantitative", "axis": null}, "text": {"field": "t", "type": "nominal"}}},
     {"data": {"name": "tags"}, "transform": [{"filter": "datum.p == 'D' && datum.kind == 'W'"}],
      "mark": {"type": "text", "align": "left", "baseline": "alphabetic", "fontSize": 25, "font": "Liberation Sans", "fontWeight": "bold", "color": "#1ecb0f"},
      "encoding": {"x": {"field": "x", "type": "quantitative", "axis": null}, "y": {"field": "y", "type": "quantitative", "axis": null}, "text": {"field": "t", "type": "nominal"}}}
    ]}
  ], "spacing": 42},
  {"hconcat": [
   {"width": 440, "height": 439,
    "resolve": {"axis": {"x": "independent", "y": "independent"}},
    "layer": [
     {"data": {"name": "arrows"}, "transform": [{"filter": "datum.p == 'E'"}], "mark": {"type": "point", "opacity": 0},
      "encoding": {
       "x": {"field": "x", "type": "quantitative", "scale": {"domain": [-1.183, 1.317], "nice": false, "zero": false}, "axis": {"orient": "bottom", "values": [-1, -0.5, 0, 0.5, 1], "labelExpr": "datum.value < 0 ? '-' + format(-datum.value, '.1f') : format(datum.value, '.1f')", "grid": true, "tickSize": 15, "labelPadding": 1, "title": null}},
       "y": {"field": "y", "type": "quantitative", "scale": {"domain": [-1.644, 0.857], "nice": false, "zero": false}, "axis": {"orient": "left", "values": [-1.5, -1, -0.5, 0, 0.5], "labelExpr": "datum.value < 0 ? '-' + format(-datum.value, '.1f') : format(datum.value, '.1f')", "grid": true, "tickSize": 15, "labelPadding": 4, "title": null}}}},
     {"data": {"name": "arrows"}, "transform": [{"filter": "datum.p == 'E'"}], "mark": {"type": "point", "opacity": 0},
      "encoding": {
       "x": {"field": "x", "type": "quantitative", "axis": {"orient": "top", "values": [-1, -0.5, 0, 0.5, 1], "labels": false, "grid": false, "tickSize": 15, "title": null}},
       "y": {"field": "y", "type": "quantitative", "axis": {"orient": "right", "values": [-1.5, -1, -0.5, 0, 0.5], "labels": false, "grid": false, "tickSize": 15, "title": null}}}},
     {"data": {"name": "tags"}, "transform": [{"filter": "datum.p == 'E' && datum.kind == 'L'"}], "mark": {"type": "rule", "color": "black", "strokeWidth": 1.2}, "encoding": {"y": {"datum": 0, "type": "quantitative", "axis": null}}},
     {"data": {"name": "tags"}, "transform": [{"filter": "datum.p == 'E' && datum.kind == 'L'"}], "mark": {"type": "rule", "color": "black", "strokeWidth": 1.2}, "encoding": {"x": {"datum": 0, "type": "quantitative", "axis": null}}},
     {"data": {"name": "arrows"}, "transform": [{"filter": "datum.p == 'E'"}], "mark": {"type": "rule", "color": "black", "strokeWidth": 1.5},
      "encoding": {"x": {"field": "x", "type": "quantitative", "axis": null}, "y": {"field": "y", "type": "quantitative", "axis": null}, "x2": {"datum": 0}, "y2": {"datum": 0}}},
     {"data": {"name": "arrows"}, "transform": [{"filter": "datum.p == 'E'"}, {"calculate": "-atan2(datum.y, datum.x) * 180 / PI", "as": "ang"}],
      "mark": {"type": "point", "shape": "M -1 -0.35 L 0 0 L -1 0.35", "filled": false, "size": 1000, "stroke": "black", "strokeWidth": 1.5, "opacity": 1},
      "encoding": {"x": {"field": "x", "type": "quantitative", "axis": null}, "y": {"field": "y", "type": "quantitative", "axis": null}, "angle": {"field": "ang", "type": "quantitative", "scale": null}}},
     {"data": {"name": "alead"}, "transform": [{"filter": "datum.p == 'E'"}],
      "mark": {"type": "rule", "color": "black", "strokeWidth": 1.2},
      "encoding": {"x": {"field": "x", "type": "quantitative", "axis": null}, "y": {"field": "y", "type": "quantitative", "axis": null}, "x2": {"field": "x2"}, "y2": {"field": "y2"}}},
     {"data": {"name": "labs"}, "transform": [{"filter": "datum.p == 'E' && datum.k == 'm'"}],
      "mark": {"type": "text", "align": "left", "baseline": "alphabetic", "fontSize": 30, "font": "Liberation Sans", "color": "black"},
      "encoding": {"x": {"field": "x", "type": "quantitative", "axis": null}, "y": {"field": "y", "type": "quantitative", "axis": null}, "text": {"field": "t", "type": "nominal"}}},
     {"data": {"name": "labs"}, "transform": [{"filter": "datum.p == 'E' && datum.k == 's'"}],
      "mark": {"type": "text", "align": "left", "baseline": "alphabetic", "fontSize": 20, "dy": 6, "font": "Liberation Sans", "color": "black"},
      "encoding": {"x": {"field": "x", "type": "quantitative", "axis": null}, "y": {"field": "y", "type": "quantitative", "axis": null}, "text": {"field": "t", "type": "nominal"}}},
     {"data": {"name": "tags"}, "transform": [{"filter": "datum.p == 'E' && datum.kind == 'L'"}],
      "mark": {"type": "text", "align": "left", "baseline": "alphabetic", "fontSize": 28, "font": "Liberation Serif", "fontWeight": "bold", "color": "black"},
      "encoding": {"x": {"field": "x", "type": "quantitative", "axis": null}, "y": {"field": "y", "type": "quantitative", "axis": null}, "text": {"field": "t", "type": "nominal"}}},
     {"data": {"name": "tags"}, "transform": [{"filter": "datum.p == 'E' && datum.kind == 'W'"}],
      "mark": {"type": "text", "align": "left", "baseline": "alphabetic", "fontSize": 25, "font": "Liberation Sans", "fontWeight": "bold", "color": "#ff6a00"},
      "encoding": {"x": {"field": "x", "type": "quantitative", "axis": null}, "y": {"field": "y", "type": "quantitative", "axis": null}, "text": {"field": "t", "type": "nominal"}}}
    ]},
   {"width": 440, "height": 439,
    "resolve": {"axis": {"x": "independent", "y": "independent"}},
    "layer": [
     {"data": {"name": "arrows"}, "transform": [{"filter": "datum.p == 'F'"}], "mark": {"type": "point", "opacity": 0},
      "encoding": {
       "x": {"field": "x", "type": "quantitative", "scale": {"domain": [-1.183, 1.317], "nice": false, "zero": false}, "axis": {"orient": "bottom", "values": [-1, -0.5, 0, 0.5, 1], "labelExpr": "datum.value < 0 ? '-' + format(-datum.value, '.1f') : format(datum.value, '.1f')", "grid": true, "tickSize": 15, "labelPadding": 1, "title": null}},
       "y": {"field": "y", "type": "quantitative", "scale": {"domain": [-1.644, 0.857], "nice": false, "zero": false}, "axis": {"orient": "left", "values": [-1.5, -1, -0.5, 0, 0.5], "labelExpr": "datum.value < 0 ? '-' + format(-datum.value, '.1f') : format(datum.value, '.1f')", "grid": true, "tickSize": 15, "labelPadding": 4, "title": null}}}},
     {"data": {"name": "arrows"}, "transform": [{"filter": "datum.p == 'F'"}], "mark": {"type": "point", "opacity": 0},
      "encoding": {
       "x": {"field": "x", "type": "quantitative", "axis": {"orient": "top", "values": [-1, -0.5, 0, 0.5, 1], "labels": false, "grid": false, "tickSize": 15, "title": null}},
       "y": {"field": "y", "type": "quantitative", "axis": {"orient": "right", "values": [-1.5, -1, -0.5, 0, 0.5], "labels": false, "grid": false, "tickSize": 15, "title": null}}}},
     {"data": {"name": "tags"}, "transform": [{"filter": "datum.p == 'F' && datum.kind == 'L'"}], "mark": {"type": "rule", "color": "black", "strokeWidth": 1.2}, "encoding": {"y": {"datum": 0, "type": "quantitative", "axis": null}}},
     {"data": {"name": "tags"}, "transform": [{"filter": "datum.p == 'F' && datum.kind == 'L'"}], "mark": {"type": "rule", "color": "black", "strokeWidth": 1.2}, "encoding": {"x": {"datum": 0, "type": "quantitative", "axis": null}}},
     {"data": {"name": "arrows"}, "transform": [{"filter": "datum.p == 'F'"}], "mark": {"type": "rule", "color": "black", "strokeWidth": 1.5},
      "encoding": {"x": {"field": "x", "type": "quantitative", "axis": null}, "y": {"field": "y", "type": "quantitative", "axis": null}, "x2": {"datum": 0}, "y2": {"datum": 0}}},
     {"data": {"name": "arrows"}, "transform": [{"filter": "datum.p == 'F'"}, {"calculate": "-atan2(datum.y, datum.x) * 180 / PI", "as": "ang"}],
      "mark": {"type": "point", "shape": "M -1 -0.35 L 0 0 L -1 0.35", "filled": false, "size": 1000, "stroke": "black", "strokeWidth": 1.5, "opacity": 1},
      "encoding": {"x": {"field": "x", "type": "quantitative", "axis": null}, "y": {"field": "y", "type": "quantitative", "axis": null}, "angle": {"field": "ang", "type": "quantitative", "scale": null}}},
     {"data": {"name": "labs"}, "transform": [{"filter": "datum.p == 'F' && datum.k == 'm'"}],
      "mark": {"type": "text", "align": "left", "baseline": "alphabetic", "fontSize": 30, "font": "Liberation Sans", "color": "black"},
      "encoding": {"x": {"field": "x", "type": "quantitative", "axis": null}, "y": {"field": "y", "type": "quantitative", "axis": null}, "text": {"field": "t", "type": "nominal"}}},
     {"data": {"name": "labs"}, "transform": [{"filter": "datum.p == 'F' && datum.k == 's'"}],
      "mark": {"type": "text", "align": "left", "baseline": "alphabetic", "fontSize": 20, "dy": 6, "font": "Liberation Sans", "color": "black"},
      "encoding": {"x": {"field": "x", "type": "quantitative", "axis": null}, "y": {"field": "y", "type": "quantitative", "axis": null}, "text": {"field": "t", "type": "nominal"}}},
     {"data": {"name": "tags"}, "transform": [{"filter": "datum.p == 'F' && datum.kind == 'L'"}],
      "mark": {"type": "text", "align": "left", "baseline": "alphabetic", "fontSize": 28, "font": "Liberation Serif", "fontWeight": "bold", "color": "black"},
      "encoding": {"x": {"field": "x", "type": "quantitative", "axis": null}, "y": {"field": "y", "type": "quantitative", "axis": null}, "text": {"field": "t", "type": "nominal"}}},
     {"data": {"name": "tags"}, "transform": [{"filter": "datum.p == 'F' && datum.kind == 'W'"}],
      "mark": {"type": "text", "align": "left", "baseline": "alphabetic", "fontSize": 25, "font": "Liberation Sans", "fontWeight": "bold", "color": "#ff0000"},
      "encoding": {"x": {"field": "x", "type": "quantitative", "axis": null}, "y": {"field": "y", "type": "quantitative", "axis": null}, "text": {"field": "t", "type": "nominal"}}}
    ]}
  ], "spacing": 39}
 ], "spacing": 24}
],
"spacing": 16
}
